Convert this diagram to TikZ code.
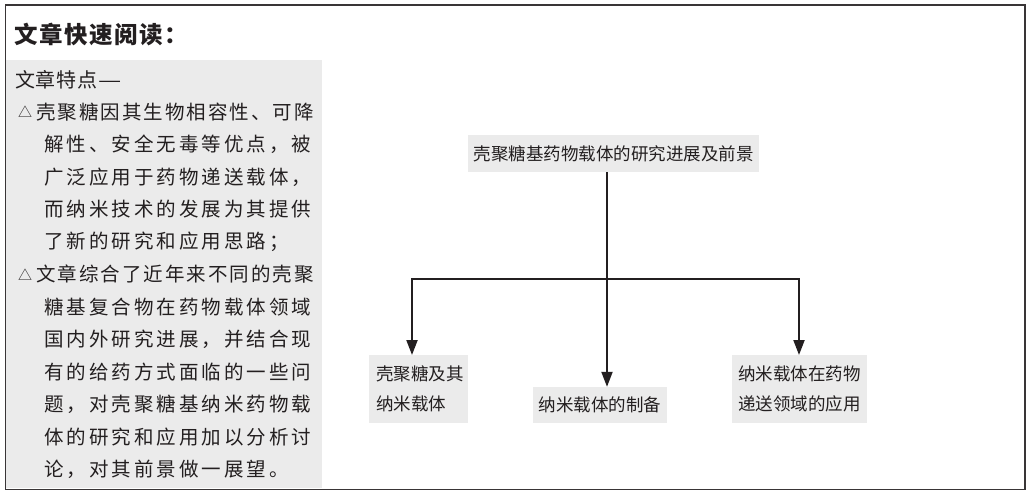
\documentclass[tikz,border=0pt]{standalone}
\usepackage{fontspec}
\usepackage{graphicx}
\newfontfamily\cjk{Noto Sans CJK SC}
\usetikzlibrary{arrows.meta}
\definecolor{panelgray}{HTML}{EBEBEB}
\definecolor{ink}{HTML}{231F20}
\newdimen\spgap
\spgap=3pt
\makeatletter
\def\sprd#1{\sprd@a#1\@nil}
\def\sprd@a#1{\ifx#1\@nil\else#1\hspace{\spgap}\expandafter\sprd@a\fi}
\makeatother
\tikzset{
  bodyline/.style={anchor=west, inner sep=0pt, text=ink, font=\cjk\fontsize{19.5}{19.5}\selectfont},
  tri/.style={anchor=west, inner sep=0pt, text=ink, font=\cjk\fontsize{14}{14}\selectfont},
  graybox/.style={fill=panelgray, text=ink, inner ysep=0pt, font=\cjk\fontsize{17.5}{30}\selectfont},
  conn/.style={line width=2pt, draw=ink, -{Triangle[length=15pt,width=11pt]}},
  plainconn/.style={line width=2pt, draw=ink}
}
\begin{document}
\begin{tikzpicture}[x=1pt,y=-1pt]
\useasboundingbox (0,0) rectangle (1035,496);
\fill[white] (0,0) rectangle (1035,496);
% left panel
\fill[panelgray] (6,60) rectangle (322,488);
\draw[line width=1.5pt, draw=ink!90] (5.3,5) rectangle (1025,489.5);
% title
\node[anchor=west, inner sep=0pt, text=ink, font=\cjk\bfseries\fontsize{23.5}{23.5}\selectfont] (title) at (14,35) {\spgap=1.5pt\sprd{文章快速阅读：}};
\node[anchor=west, inner sep=0pt, text=ink, font=\cjk\fontsize{20}{20}\selectfont] (feat) at (15,80) {\spgap=0.8pt\sprd{文章特点}\scalebox{1.3}[1]{—}};
% bullet 1
\node[tri] (t1) at (18,112) {△};
\node[bodyline] (l1) at (36,112) {\spgap=2pt\sprd{壳聚糖因其生物相容性、可降}};
\node[bodyline] (l2) at (44,144.5) {\sprd{解性、安全无毒等优点，被}};
\node[bodyline] (l3) at (44,177) {\sprd{广泛应用于药物递送载体，}};
\node[bodyline] (l4) at (44,209.5) {\sprd{而纳米技术的发展为其提供}};
\node[bodyline] (l5) at (44,242) {\sprd{了新的研究和应用思路；}};
% bullet 2
\node[tri] (t2) at (18,274.5) {△};
\node[bodyline] (l6) at (36,274.5) {\spgap=2pt\sprd{文章综合了近年来不同的壳聚}};
\node[bodyline] (l7) at (44,307) {\sprd{糖基复合物在药物载体领域}};
\node[bodyline] (l8) at (44,339.5) {\sprd{国内外研究进展，并结合现}};
\node[bodyline] (l9) at (44,372) {\sprd{有的给药方式面临的一些问}};
\node[bodyline] (l10) at (44,404.5) {\sprd{题，对壳聚糖基纳米药物载}};
\node[bodyline] (l11) at (44,437) {\sprd{体的研究和应用加以分析讨}};
\node[bodyline] (l12) at (44,469.5) {\sprd{论，对其前景做一展望。}};
% diagram boxes
\node[graybox, minimum width=291pt, minimum height=37pt, inner xsep=0pt] (top) at (613.5,153.5) {壳聚糖基药物载体的研究进展及前景};
\node[graybox, anchor=north west, minimum width=99pt, minimum height=68pt, inner xsep=7pt, text width=85pt, align=left] (lbox) at (369,355) {壳聚糖及其\\纳米载体};
\node[graybox, minimum width=134pt, minimum height=36pt, inner xsep=0pt] (mbox) at (600,405) {纳米载体的制备};
\node[graybox, anchor=north west, minimum width=135pt, minimum height=68pt, inner xsep=6pt, text width=123pt, align=left] (rbox) at (732,355) {纳米载体在药物\\递送领域的应用};
% connectors
\coordinate (j) at (607,279);
\coordinate (jl) at (412,279);
\coordinate (jr) at (799,279);
\draw[plainconn, line cap=rect] (jl) -- (jr);
\draw[conn] (top.south -| j) -- (mbox.north -| j);
\draw[conn] (jl) -- (jl |- lbox.north);
\draw[conn] (jr) -- (jr |- rbox.north);
\end{tikzpicture}
\end{document}
